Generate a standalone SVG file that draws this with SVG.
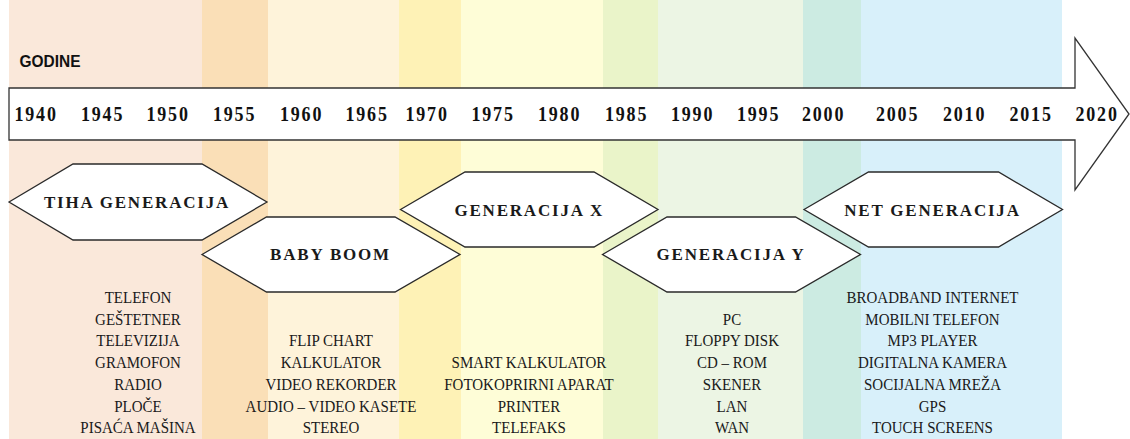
<svg xmlns="http://www.w3.org/2000/svg" width="1130" height="439" viewBox="0 0 1130 439">
<style>
.yr{font-family:"Liberation Serif","Times New Roman",serif;font-weight:bold;font-size:18px;letter-spacing:1.8px;fill:#111;transform-box:fill-box;transform-origin:50% 78%;transform:scaleY(1.12)}
.hx{fill:#fff;stroke:#2a2a2a;stroke-width:1.3}
.hl{font-family:"Liberation Serif","Times New Roman",serif;font-weight:bold;font-size:17px;letter-spacing:1.8px;fill:#1a1a1a;text-anchor:middle}
.ls{font-family:"Liberation Serif","Times New Roman",serif;font-size:15px;fill:#1a1a1a;text-anchor:middle;transform-box:fill-box;transform-origin:50% 78%;transform:scaleY(1.15)}
</style>
<g id="bands">
<rect x="9" y="0" width="193" height="439" fill="#FAE8DA"/>
<rect x="202" y="0" width="66" height="439" fill="#FADFB7"/>
<rect x="268" y="0" width="131" height="439" fill="#FEF3DA"/>
<rect x="399" y="0" width="62" height="439" fill="#FEF2B6"/>
<rect x="461" y="0" width="142" height="439" fill="#FEFDD7"/>
<rect x="603" y="0" width="55" height="439" fill="#EAF4C9"/>
<rect x="658" y="0" width="145" height="439" fill="#ECF5E4"/>
<rect x="803" y="0" width="58" height="439" fill="#CCEBE2"/>
<rect x="861" y="0" width="201" height="439" fill="#D8F0FA"/>
</g>
<g id="godine">
<text x="19.5" y="66.5" font-family="Liberation Sans, Arial, sans-serif" font-weight="bold" font-size="17" textLength="61" lengthAdjust="spacingAndGlyphs" fill="#111">GODINE</text>
</g>
<g id="timeline-arrow">
<polygon points="9,88 1075,88 1075,38 1129,114 1075,190 1075,140 9,140" fill="#fff" stroke="#333" stroke-width="1.3" stroke-linejoin="miter"/>
<text class="yr" x="14.5" y="121">1940</text>
<text class="yr" x="81" y="121">1945</text>
<text class="yr" x="146.5" y="121">1950</text>
<text class="yr" x="213" y="121">1955</text>
<text class="yr" x="280" y="121">1960</text>
<text class="yr" x="345.5" y="121">1965</text>
<text class="yr" x="405.5" y="121">1970</text>
<text class="yr" x="471.5" y="121">1975</text>
<text class="yr" x="538" y="121">1980</text>
<text class="yr" x="605" y="121">1985</text>
<text class="yr" x="671" y="121">1990</text>
<text class="yr" x="737" y="121">1995</text>
<text class="yr" x="802" y="121">2000</text>
<text class="yr" x="876" y="121">2005</text>
<text class="yr" x="943" y="121">2010</text>
<text class="yr" x="1009.5" y="121">2015</text>
<text class="yr" x="1075.5" y="121">2020</text>
</g>
<g id="tiha-generacija">
<polygon class="hx" points="9,202 73,164 202,164 267,202 202,240 73,240"/>
<text class="hl" x="137" y="208.3">TIHA GENERACIJA</text>
</g>
<g id="baby-boom">
<polygon class="hx" points="202,254.5 266.5,217 395,217 460,254.5 395,292 266.5,292"/>
<text class="hl" x="330.5" y="260">BABY BOOM</text>
</g>
<g id="generacija-x">
<polygon class="hx" points="400.5,209.5 465,172 594,172 658,209.5 594,247 465,247"/>
<text class="hl" x="529.2" y="216">GENERACIJA X</text>
</g>
<g id="generacija-y">
<polygon class="hx" points="602.5,254.5 667,217 795.5,217 860.5,254.5 795.5,292 667,292"/>
<text class="hl" x="731" y="260">GENERACIJA Y</text>
</g>
<g id="net-generacija">
<polygon class="hx" points="804,209.5 868.5,172 998.5,172 1062.5,209.5 998.5,247 868.5,247"/>
<text class="hl" x="932.5" y="216">NET GENERACIJA</text>
</g>
<g id="list-tiha">
<text class="ls" x="138" y="303">TELEFON</text>
<text class="ls" x="138" y="324.7">GEŠTETNER</text>
<text class="ls" x="138" y="346.4">TELEVIZIJA</text>
<text class="ls" x="138" y="368">GRAMOFON</text>
<text class="ls" x="138" y="389.7">RADIO</text>
<text class="ls" x="138" y="411.4">PLOČE</text>
<text class="ls" x="138" y="433">PISAĆA MAŠINA</text>
</g>
<g id="list-baby-boom">
<text class="ls" x="331" y="346.4">FLIP CHART</text>
<text class="ls" x="331" y="368">KALKULATOR</text>
<text class="ls" x="331" y="389.7">VIDEO REKORDER</text>
<text class="ls" x="331" y="411.4">AUDIO – VIDEO KASETE</text>
<text class="ls" x="331" y="433">STEREO</text>
</g>
<g id="list-x">
<text class="ls" x="529" y="368">SMART KALKULATOR</text>
<text class="ls" x="529" y="389.7">FOTOKOPRIRNI APARAT</text>
<text class="ls" x="529" y="411.4">PRINTER</text>
<text class="ls" x="529" y="433">TELEFAKS</text>
</g>
<g id="list-y">
<text class="ls" x="732" y="324.7">PC</text>
<text class="ls" x="732" y="346.4">FLOPPY DISK</text>
<text class="ls" x="732" y="368">CD – ROM</text>
<text class="ls" x="732" y="389.7">SKENER</text>
<text class="ls" x="732" y="411.4">LAN</text>
<text class="ls" x="732" y="433">WAN</text>
</g>
<g id="list-net">
<text class="ls" x="932.5" y="303">BROADBAND INTERNET</text>
<text class="ls" x="932.5" y="324.7">MOBILNI TELEFON</text>
<text class="ls" x="932.5" y="346.4">MP3 PLAYER</text>
<text class="ls" x="932.5" y="368">DIGITALNA KAMERA</text>
<text class="ls" x="932.5" y="389.7">SOCIJALNA MREŽA</text>
<text class="ls" x="932.5" y="411.4">GPS</text>
<text class="ls" x="932.5" y="433">TOUCH SCREENS</text>
</g>
<g id="connectors"></g>
</svg>
